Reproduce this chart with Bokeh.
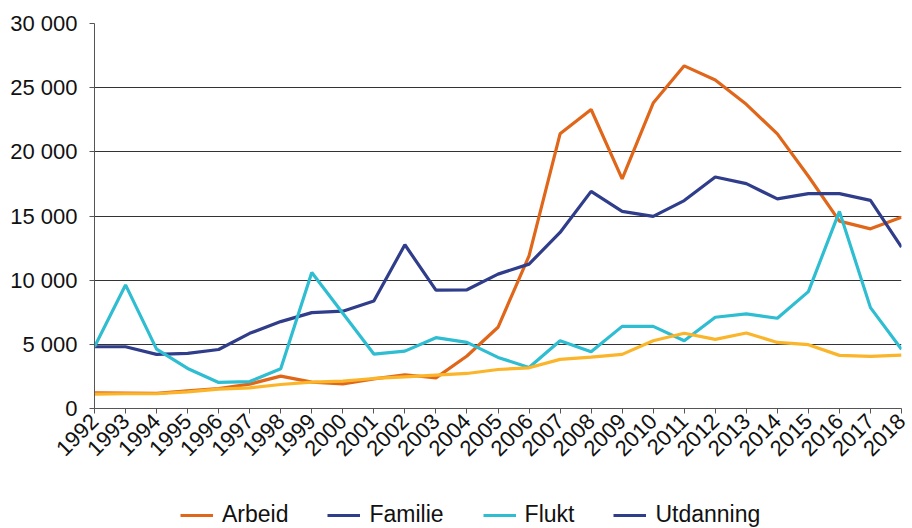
import math
from bokeh.plotting import figure
from bokeh.layouts import column
from bokeh.models import Range1d, FixedTicker, Legend, LegendItem
from bokeh.embed import file_html
from bokeh.resources import INLINE

years = list(range(1992, 2019))
arbeid = [1220, 1200, 1180, 1380, 1560, 1900, 2520, 2050, 1920, 2310, 2630, 2390, 4090,
          6330, 11900, 21400, 23300, 17900, 23800, 26700, 25600, 23700, 21400, 18100,
          14600, 14000, 14900]
familie = [4810, 4810, 4220, 4300, 4600, 5860, 6770, 7470, 7580, 8380, 12760, 9220, 9250,
           10470, 11250, 13720, 16920, 15360, 14970, 16200, 18040, 17520, 16330, 16740,
           16740, 16220, 12580]
flukt = [4810, 9630, 4630, 3120, 2030, 2100, 3090, 10600, 7420, 4240, 4470, 5520, 5150,
         3980, 3200, 5280, 4420, 6400, 6400, 5280, 7110, 7370, 7030, 9110, 15360, 7860, 4610]
utdanning = [1120, 1150, 1150, 1300, 1510, 1610, 1870, 2050, 2130, 2340, 2470, 2600, 2730,
             3040, 3170, 3830, 4010, 4220, 5280, 5860, 5390, 5880, 5150, 4970, 4140, 4060, 4160]

y_ticks = [0, 5000, 10000, 15000, 20000, 25000, 30000]
y_tick_labels = ["0", "5 000", "10 000", "15 000", "20 000", "25 000", "30 000"]
series_names = ["Arbeid", "Familie", "Flukt", "Utdanning"]

C_ARBEID = "#E0661A"
C_FAMILIE = "#2F3D8A"
C_FLUKT = "#2EBDD1"
C_UTD = "#FBB52A"
FONT = "Liberation Sans"

p = figure(width=912, height=490, output_backend="svg", toolbar_location=None,
           x_range=Range1d(1992, 2018), y_range=Range1d(0, 30000),
           min_border_left=94, min_border_right=11, min_border_top=23, min_border_bottom=82)
p.outline_line_color = None
p.background_fill_color = "white"
p.border_fill_color = "white"

p.xgrid.visible = False
p.ygrid.ticker = FixedTicker(ticks=y_ticks)
p.ygrid.grid_line_color = "#333333"
p.ygrid.grid_line_width = 1

p.yaxis.ticker = FixedTicker(ticks=y_ticks)
p.yaxis.major_label_overrides = {t: l for t, l in zip(y_ticks, y_tick_labels)}
p.xaxis.ticker = FixedTicker(ticks=years)
p.xaxis.major_label_overrides = {y: str(y) for y in years}
p.xaxis.major_label_orientation = math.pi / 4

for ax in (p.xaxis[0], p.yaxis[0]):
    ax.axis_line_color = "#555555"
    ax.axis_line_width = 1
    ax.major_tick_line_color = "#555555"
    ax.major_tick_in = 0
    ax.major_tick_out = 5
    ax.minor_tick_line_color = None
    ax.major_label_text_font = FONT
    ax.major_label_text_font_size = "22px"
    ax.major_label_text_color = "#111111"
p.yaxis.major_label_standoff = 12
p.xaxis.major_label_standoff = 4

p.line(years, arbeid, line_color=C_ARBEID, line_width=3.2)
p.line(years, familie, line_color=C_FAMILIE, line_width=3.2)
p.line(years, flukt, line_color=C_FLUKT, line_width=3.2)
p.line(years, utdanning, line_color=C_UTD, line_width=3.2)

# legend strip below the chart (swatch colours as shown in the original)
leg_colors = [C_ARBEID, C_FAMILIE, C_FLUKT, C_FAMILIE]
lf = figure(width=912, height=38, output_backend="svg", toolbar_location=None,
            x_axis_type=None, y_axis_type=None, x_range=Range1d(0, 1), y_range=Range1d(0, 1),
            min_border_left=0, min_border_right=0, min_border_top=0, min_border_bottom=0)
lf.outline_line_color = None
lf.grid.visible = False
items = []
for name, col in zip(series_names, leg_colors):
    # swatch-only renderer: its points lie outside the visible range
    r = lf.line([-3, -2], [-3, -2], line_color=col, line_width=3)
    items.append(LegendItem(label=name, renderers=[r]))

legend = Legend(items=items, location=(86, 0), orientation="horizontal")
legend.background_fill_alpha = 0
legend.border_line_alpha = 0
legend.padding = 0
legend.margin = 0
legend.spacing = 39
legend.glyph_width = 33
legend.glyph_height = 20
legend.label_height = 20
legend.label_standoff = 9
legend.label_text_font = FONT
legend.label_text_font_size = "23px"
legend.label_text_color = "#111111"
lf.add_layout(legend, "center")

layout = column(p, lf, spacing=0)
open("out.html", "w").write(file_html(layout, INLINE))
